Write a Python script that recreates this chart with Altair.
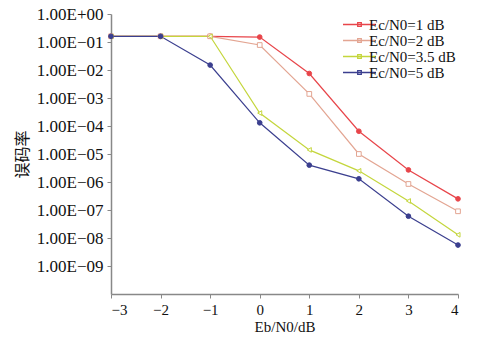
import altair as alt
import pandas as pd

ebn0 = [-3, -2, -1, 0, 1, 2, 3, 4]
series_names = ["Ec/N0=1 dB", "Ec/N0=2 dB", "Ec/N0=3.5 dB", "Ec/N0=5 dB"]
ber_1 = [0.16, 0.16, 0.16, 0.15, 7.5e-3, 6.5e-5, 2.7e-6, 2.5e-7]
ber_2 = [0.16, 0.16, 0.16, 0.078, 1.4e-3, 1.0e-5, 8.5e-7, 9e-8]
ber_35 = [0.16, 0.16, 0.16, 2.9e-4, 1.4e-5, 2.5e-6, 2.1e-7, 1.3e-8]
ber_5 = [0.16, 0.16, 0.015, 1.3e-4, 4e-6, 1.3e-6, 6e-8, 5.6e-9]
y_ticks = [1e0, 1e-1, 1e-2, 1e-3, 1e-4, 1e-5, 1e-6, 1e-7, 1e-8, 1e-9]
x_ticks = [-3, -2, -1, 0, 1, 2, 3, 4]
colors = ["#e8454a", "#e3a592", "#c4d63c", "#3b3f8f"]
shapes = ["circle", "square", "triangle-left", "circle"]
fills = ["#e8454a", "white", "white", "#3b3f8f"]

rows = []
for name, vals in zip(series_names, [ber_1, ber_2, ber_35, ber_5]):
    for x, v in zip(ebn0, vals):
        rows.append({"x": x, "ber": v, "series": name, "marker": name + " "})
df = pd.DataFrame(rows)
marker_names = [n + " " for n in series_names]

serif = "Liberation Serif"
label_expr = ("'1.00E' + (round(log(datum.value)/LN10) >= 0 ? '+' : '\u2212') + "
              "(abs(round(log(datum.value)/LN10)) < 10 ? '0' : '') + abs(round(log(datum.value)/LN10))")

xenc = alt.X("x:Q", scale=alt.Scale(domain=[-3, 4], nice=False, zero=False),
             axis=alt.Axis(values=x_ticks, title="Eb/N0/dB", format="d",
                           labelExpr="replace(datum.label, '-', '\u2212')"))
yenc = alt.Y("ber:Q", scale=alt.Scale(type="log", domain=[1e-10, 1], nice=False),
             axis=alt.Axis(values=y_ticks, title="误码率", labelExpr=label_expr))
cenc = alt.Color("series:N", scale=alt.Scale(domain=series_names, range=colors),
                 legend=alt.Legend(title=None, orient="none", legendX=241, legendY=3,
                                   symbolType="M-8.25,0H8.25M-0.9,-0.9H0.9V0.9H-0.9Z",
                                   symbolSize=16, symbolStrokeWidth=1.3,
                                   labelFont=serif, labelFontSize=15, labelColor="#111",
                                   rowPadding=0, labelOffset=2))

lines = alt.Chart(df).mark_line(strokeWidth=1.2).encode(x=xenc, y=yenc, color=cenc)
points = alt.Chart(df).mark_point(size=22, strokeWidth=1, opacity=1).encode(
    x="x:Q", y="ber:Q",
    stroke=alt.Stroke("marker:N", scale=alt.Scale(domain=marker_names, range=colors), legend=None),
    shape=alt.Shape("marker:N", scale=alt.Scale(domain=marker_names, range=shapes), legend=None),
    fill=alt.Fill("marker:N", scale=alt.Scale(domain=marker_names, range=fills), legend=None),
)

chart = alt.layer(lines, points).resolve_scale(
    color="independent", shape="independent", fill="independent", stroke="independent"
).resolve_legend(color="independent", shape="independent", fill="independent", stroke="independent"
).properties(
    width=347, height=280,
    autosize=alt.AutoSizeParams(type="none"),
    padding={"left": 111, "top": 14, "right": 34, "bottom": 48},
    background="white",
).configure_view(stroke=None).configure_axis(
    grid=False, domainColor="#888", domainWidth=1.5, tickColor="#888", tickSize=4,
    labelFont=serif, titleFont=serif, labelColor="#111", titleColor="#111",
).configure_axisX(
    labelFontSize=15, titleFontSize=15, labelPadding=4, titleFontWeight="normal", titlePadding=2,
).configure_axisY(
    labelFontSize=17, titleFontSize=16, titleFont="Noto Sans CJK SC", titleFontWeight="normal",
    titlePadding=6, labelPadding=4,
)

chart.save("out.html", embed_options={"renderer": "svg", "actions": False})
